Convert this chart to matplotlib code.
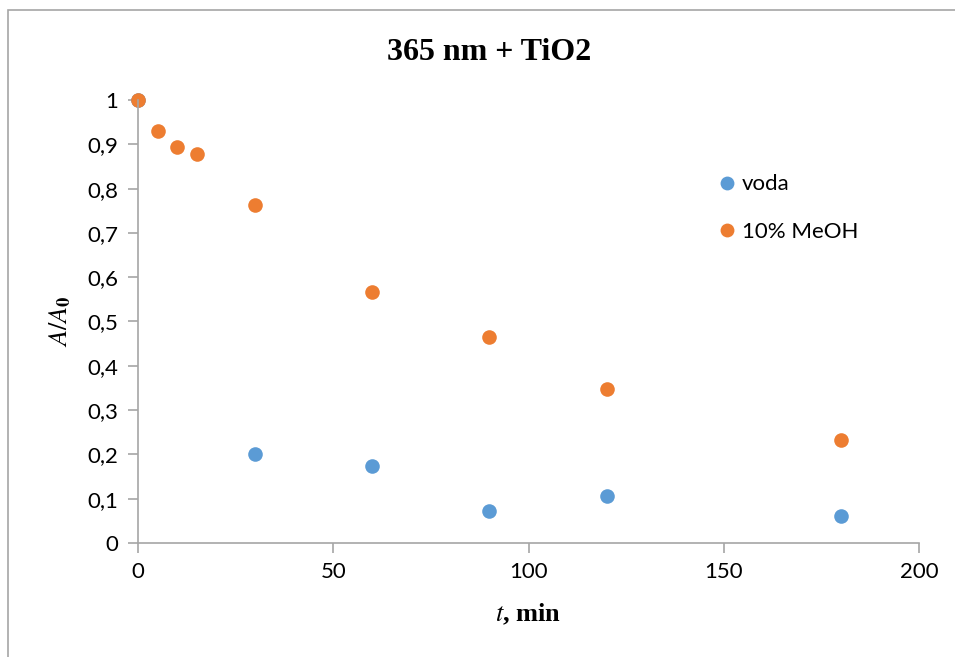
import matplotlib.pyplot as plt
from matplotlib.ticker import FuncFormatter, MultipleLocator
from matplotlib.patches import Rectangle

# data
t_voda = [0, 30, 60, 90, 120, 180]
a_voda = [1.0, 0.200, 0.173, 0.072, 0.105, 0.061]
t_meoh = [0, 5, 10, 15, 30, 60, 90, 120, 180]
a_meoh = [1.0, 0.930, 0.895, 0.878, 0.763, 0.567, 0.465, 0.347, 0.232]
labels = ["voda", "10% MeOH"]
colors = ["#5B9BD5", "#ED7D31"]

plt.rcParams["mathtext.fontset"] = "stix"
tick_font = "Lato"
serif = "Liberation Serif"

fig = plt.figure(figsize=(9.55, 6.57), dpi=100)
W, H = 955, 657
ax = fig.add_axes([138 / W, 1 - 543 / H, (919 - 138) / W, (543 - 100) / H])

ax.plot(t_voda, a_voda, "o", color=colors[0], ms=10.5, mec="none", label=labels[0], clip_on=False)
ax.plot(t_meoh, a_meoh, "o", color=colors[1], ms=10.5, mec="none", label=labels[1], clip_on=False)

ax.set_xlim(0, 200)
ax.set_ylim(0, 1)
ax.xaxis.set_major_locator(MultipleLocator(50))
ax.yaxis.set_major_locator(MultipleLocator(0.1))
ax.yaxis.set_major_formatter(FuncFormatter(lambda v, p: ("%.1f" % v).replace(".", ",") if 0 < v < 1 else "%d" % round(v)))

for s in ["top", "right"]:
    ax.spines[s].set_visible(False)
for s in ["left", "bottom"]:
    ax.spines[s].set_color("#a6a6a6")
    ax.spines[s].set_linewidth(1.2)
ax.tick_params(direction="out", length=7, width=1.2, color="#a6a6a6", labelsize=16, pad=7)
for lab in ax.get_xticklabels() + ax.get_yticklabels():
    lab.set_fontfamily(tick_font)

# title is centred on the chart area, not on the plot area
fig.text(489 / W, 1 - 52 / H, "365 nm + TiO2", fontsize=23, fontweight="bold", family=serif,
         ha="center", va="center")
ax.set_xlabel(r"$\mathit{t}$, min", fontsize=19, fontweight="bold", family=serif, labelpad=14)
ax.set_ylabel(r"$\mathit{A/A}_\mathbf{0}$", fontsize=19, labelpad=10)

leg = ax.legend(loc="upper left", bbox_to_anchor=(0.728, 0.857), frameon=False,
                prop={"family": tick_font, "size": 16}, handlelength=0.8, handletextpad=0.3,
                labelspacing=1.23, markerscale=0.95, borderpad=0)

# chart area border
fig.patches.append(Rectangle((8 / W, -0.1), 1.2, 1 - 10 / H + 0.1, transform=fig.transFigure,
                             fill=False, edgecolor="#a6a6a6", lw=1.2))

fig.savefig("out.png", dpi=100)
